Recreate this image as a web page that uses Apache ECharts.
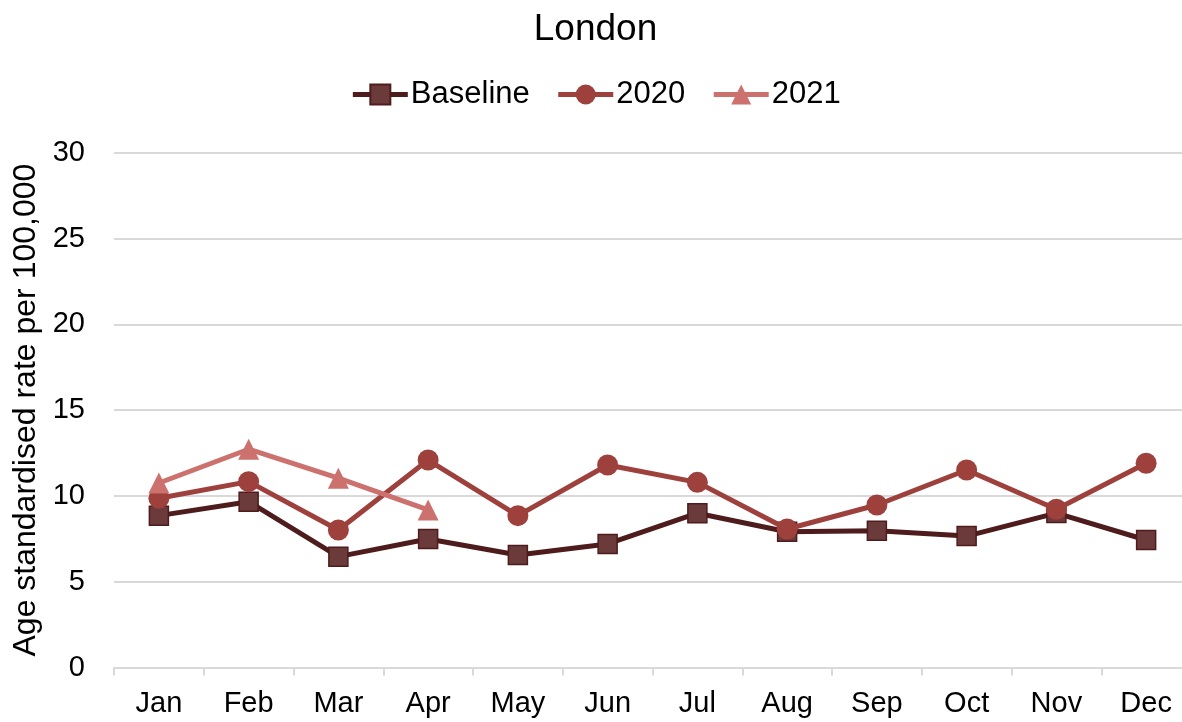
<!DOCTYPE html>
<html><head><meta charset="utf-8">
<script src="https://cdn.jsdelivr.net/npm/echarts@6/dist/echarts.min.js"></script>
<style>html,body{margin:0;padding:0;background:#fff;overflow:hidden;width:1182px;height:722px}#c{width:1191px;height:722px}</style>
</head><body><div id="c"></div>
<script>
const months = ['Jan','Feb','Mar','Apr','May','Jun','Jul','Aug','Sep','Oct','Nov','Dec'];
const baseline = [8.85, 9.66, 6.46, 7.49, 6.56, 7.2, 8.99, 7.91, 7.97, 7.66, 9.0, 7.43];
const y2020 = [9.86, 10.83, 8.01, 12.09, 8.85, 11.8, 10.79, 8.07, 9.47, 11.51, 9.22, 11.9];
const y2021 = [10.75, 12.72, 11.03, 9.18];
const yTicks = [0, 5, 10, 15, 20, 25, 30];
const font = '"Liberation Sans", Arial, sans-serif';

const chart = echarts.init(document.getElementById('c'));
chart.setOption({
  animation: false,
  title: {text: 'London', left: 'center', top: 6, textStyle: {fontFamily: font, fontSize: 37, fontWeight: 'normal', color: '#000'}},
  legend: {
    top: 74, left: 'center', itemGap: 26, itemWidth: 55, itemHeight: 25,
    lineStyle: {width: 5},
    textStyle: {fontFamily: font, fontSize: 31, color: '#000', padding: [0, 0, 0, -2]},
    data: ['Baseline', '2020', '2021']
  },
  grid: {left: 114, right: 0, top: 152.7, bottom: 722 - 667.5, containLabel: false},
  xAxis: {
    type: 'category', data: months, boundaryGap: true,
    axisLine: {lineStyle: {color: '#D9D9D9', width: 2}},
    axisTick: {show: true, length: 8, lineStyle: {color: '#D9D9D9', width: 2}},
    axisLabel: {fontFamily: font, fontSize: 29, color: '#000', margin: 22}
  },
  yAxis: {
    type: 'value', min: yTicks[0], max: yTicks[yTicks.length - 1], interval: 5,
    name: 'Age standardised rate per 100,000', nameLocation: 'middle', nameGap: 67,
    nameTextStyle: {fontFamily: font, fontSize: 32, color: '#000'},
    axisLine: {show: false}, axisTick: {show: false},
    axisLabel: {fontFamily: font, fontSize: 29, color: '#000', margin: 29},
    splitLine: {lineStyle: {color: '#D9D9D9', width: 2}}
  },
  series: [
    {name: 'Baseline', type: 'line', data: baseline, symbol: 'rect', symbolSize: 19,
     lineStyle: {color: '#4E1C1C', width: 5}, itemStyle: {color: '#6B3A3A', borderColor: '#4E1C1C', borderWidth: 1.5}, z: 2},
    {name: '2020', type: 'line', data: y2020, symbol: 'circle', symbolSize: 21,
     lineStyle: {color: '#9E403C', width: 5}, itemStyle: {color: '#9E403C'}, z: 3},
    {name: '2021', type: 'line', data: y2021, symbol: 'triangle', symbolSize: 21,
     lineStyle: {color: '#CC716E', width: 5}, itemStyle: {color: '#CC716E'}, z: 4}
  ]
});
</script></body></html>
